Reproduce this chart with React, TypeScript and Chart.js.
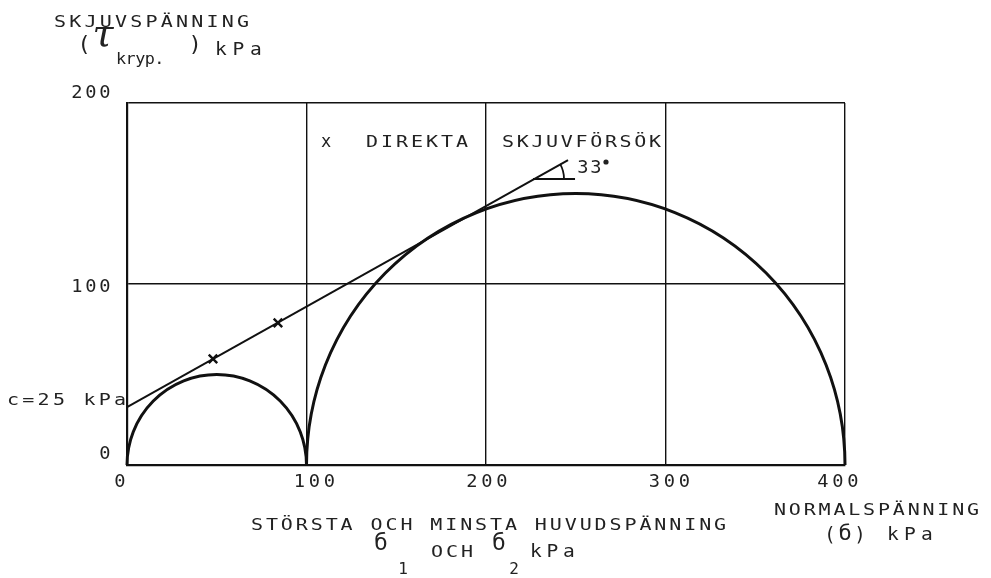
import React, { useEffect, useRef } from "react";
import { Chart, registerables } from "chart.js";

Chart.register(...registerables);

// ---- data (kPa) ----
const X_TICKS = [0, 100, 200, 300, 400];
const Y_TICKS = [0, 100, 200];
// Mohr circles: minor / major principal stress
const CIRCLE_SIGMA3 = [0, 100];
const CIRCLE_SIGMA1 = [100, 400];
// Failure envelope (tangent line)
const ENVELOPE_SIGMA = [0, 245.7];
const ENVELOPE_TAU = [32, 168.5];
// Direct shear test points
const TEST_SIGMA = [47.9, 84.1];
const TEST_TAU = [58.6, 78.5];
// Angle marker base line
const ANGLE_SIGMA = [226.2, 249.6];
const ANGLE_TAU = [158, 158];

const INK = "#111";
const TXT = "#222";
const MONO = '"DejaVu Sans Mono"';

function spaced(
  ctx: CanvasRenderingContext2D,
  text: string,
  x0: number,
  baseline: number,
  pitch: number,
  size = 16,
  stretch = 1.25
) {
  ctx.font = `${size}px ${MONO}`;
  ctx.textAlign = "center";
  ctx.textBaseline = "alphabetic";
  [...text].forEach((ch, i) => {
    if (ch === " ") return;
    ctx.save();
    ctx.translate(x0 + i * pitch, baseline);
    ctx.scale(stretch, 1);
    ctx.fillText(ch, 0, 0);
    ctx.restore();
  });
}

const drawPlugin = {
  id: "mohr",
  beforeDatasetsDraw(chart: any) {
    const { ctx, scales } = chart;
    const xs = scales.x;
    const ys = scales.y;
    ctx.save();
    ctx.strokeStyle = INK;
    ctx.lineWidth = 3;
    CIRCLE_SIGMA3.forEach((s3, i) => {
      const s1 = CIRCLE_SIGMA1[i];
      const c = (s1 + s3) / 2;
      const r = (s1 - s3) / 2;
      const cx = xs.getPixelForValue(c);
      const cy = ys.getPixelForValue(0);
      const rx = Math.abs(xs.getPixelForValue(c + r) - cx);
      const ry = Math.abs(ys.getPixelForValue(r) - cy);
      ctx.beginPath();
      ctx.ellipse(cx, cy, rx, ry, 0, Math.PI, 2 * Math.PI);
      ctx.stroke();
    });
    // angle arc
    const ex0 = xs.getPixelForValue(ENVELOPE_SIGMA[0]);
    const ey0 = ys.getPixelForValue(ENVELOPE_TAU[0]);
    const ex1 = xs.getPixelForValue(ENVELOPE_SIGMA[1]);
    const ey1 = ys.getPixelForValue(ENVELOPE_TAU[1]);
    const ang = Math.atan2(ey0 - ey1, ex1 - ex0);
    const ax = xs.getPixelForValue(ANGLE_SIGMA[0]);
    const ay = ys.getPixelForValue(ANGLE_TAU[0]);
    ctx.lineWidth = 1.8;
    ctx.beginPath();
    ctx.arc(ax, ay, 31, -ang, 0);
    ctx.stroke();
    ctx.restore();
  },
  afterDraw(chart: any) {
    const { ctx, scales } = chart;
    const xs = scales.x;
    const ys = scales.y;
    ctx.save();
    ctx.fillStyle = TXT;

    // y-axis title
    spaced(ctx, "SKJUVSPÄNNING", 60, 27, 15.25);
    ctx.font = `22px ${MONO}`;
    ctx.textAlign = "center";
    ctx.fillText("(", 84, 51);
    ctx.fillText(")", 195, 51);
    ctx.font = 'italic 38px "DejaVu Serif"';
    ctx.fillText("τ", 103, 46);
    spaced(ctx, "kryp.", 121, 64, 9.6, 16, 1.05);
    spaced(ctx, "kPa", 221, 55, 17.5, 17, 1.15);

    // y tick labels
    const yOff: Record<number, number> = { 0: -6, 100: 8, 200: -5 };
    Y_TICKS.forEach((v) => {
      const label = String(v);
      const py = ys.getPixelForValue(v) + yOff[v];
      const right = 110;
      const n = label.length;
      spaced(ctx, label, right - 5 - (n - 1) * 14, py, 14, 17, 1.1);
    });
    spaced(ctx, "c=25 kPa", 13, 405, 15.3);

    // x tick labels
    const xOff: Record<number, number> = { 0: -7, 100: 8, 200: 1, 300: 4, 400: -7 };
    X_TICKS.forEach((v) => {
      const label = String(v);
      const cx = xs.getPixelForValue(v) + xOff[v];
      const n = label.length;
      spaced(ctx, label, cx - ((n - 1) * 15) / 2, 487, 15, 17, 1.1);
    });

    // legend text in plot
    ctx.font = `17px ${MONO}`;
    ctx.textAlign = "center";
    ctx.fillText("x", 326, 147);
    spaced(ctx, "DIREKTA", 372, 147, 15);
    spaced(ctx, "SKJUVFÖRSÖK", 508, 147, 14.7);
    spaced(ctx, "33", 583, 173, 13, 17, 1.1);
    ctx.beginPath();
    ctx.arc(606, 162, 2.6, 0, Math.PI * 2);
    ctx.fill();

    // x-axis titles
    spaced(ctx, "STÖRSTA OCH MINSTA HUVUDSPÄNNING", 257, 530, 14.94);
    spaced(ctx, "б", 381, 550, 14, 23, 1.0);
    spaced(ctx, "1", 403, 574, 14, 16, 1.0);
    spaced(ctx, "OCH", 437, 557, 15);
    spaced(ctx, "б", 499, 550, 14, 23, 1.0);
    spaced(ctx, "2", 514, 574, 14, 16, 1.0);
    spaced(ctx, "kPa", 536, 557, 16.5, 17, 1.15);

    spaced(ctx, "NORMALSPÄNNING", 780, 515, 14.85);
    spaced(ctx, "(", 830, 541, 14, 19, 1.0);
    spaced(ctx, "б", 845, 540, 14, 22, 1.0);
    spaced(ctx, ")", 860, 541, 14, 19, 1.0);
    spaced(ctx, "kPa", 893, 540, 17, 17, 1.15);

    ctx.restore();
  },
};

export default function App() {
  const ref = useRef<HTMLCanvasElement>(null);
  useEffect(() => {
    const envelope = ENVELOPE_SIGMA.map((x, i) => ({ x, y: ENVELOPE_TAU[i] }));
    const tests = TEST_SIGMA.map((x, i) => ({ x, y: TEST_TAU[i] }));
    const angleBase = ANGLE_SIGMA.map((x, i) => ({ x, y: ANGLE_TAU[i] }));
    const chart = new Chart(ref.current!, {
      type: "scatter",
      data: {
        datasets: [
          {
            label: "envelope",
            data: envelope,
            showLine: true,
            borderColor: INK,
            borderWidth: 2,
            pointRadius: 0,
          },
          {
            label: "DIREKTA SKJUVFÖRSÖK",
            data: tests,
            pointStyle: "crossRot",
            pointRadius: 6,
            borderColor: INK,
            borderWidth: 2.4,
            backgroundColor: INK,
          },
          {
            label: "angle",
            data: angleBase,
            showLine: true,
            borderColor: INK,
            borderWidth: 1.8,
            pointRadius: 0,
          },
        ],
      },
      options: {
        responsive: false,
        animation: false,
        devicePixelRatio: 1,
        layout: { padding: { left: 127, right: 146, top: 103, bottom: 113 } },
        plugins: { legend: { display: false }, tooltip: { enabled: false } },
        scales: {
          x: {
            type: "linear",
            min: 0,
            max: 400,
            ticks: { stepSize: 100, display: false },
            grid: { color: INK, lineWidth: 1.4, drawTicks: false },
            border: { color: INK, width: 2.2 },
          },
          y: {
            type: "linear",
            min: 0,
            max: 200,
            ticks: { stepSize: 100, display: false },
            grid: { color: INK, lineWidth: 1.4, drawTicks: false },
            border: { color: INK, width: 2.2 },
          },
        },
      },
      plugins: [drawPlugin],
    });
    return () => chart.destroy();
  }, []);
  return (
    <div style={{ position: "fixed", left: 0, top: 0, width: 991, height: 578, background: "#fff" }}>
      <canvas ref={ref} width={991} height={578} style={{ display: "block" }} />
    </div>
  );
}
